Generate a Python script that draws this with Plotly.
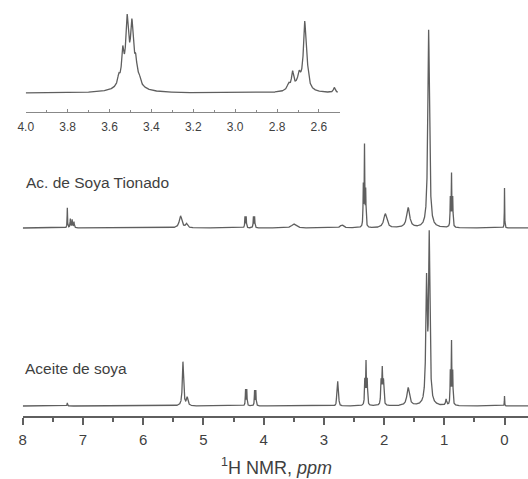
import numpy as np
import plotly.graph_objects as go

# ---- Peak lists: (ppm, height, half-width in ppm) ----
tionado_ppm    = [7.26, 7.21, 7.18, 7.15, 5.38, 5.28, 4.31, 4.29, 4.17, 4.15, 3.50, 2.70,
                  2.345, 2.325, 2.305, 1.98, 1.60, 1.26, 0.90, 0.88, 0.86, 0.00]
tionado_height = [20, 9, 8, 6, 12, 4, 11, 11, 11, 11, 4, 3,
                  40, 80, 35, 14, 20, 198, 28, 52, 28, 40]
tionado_width  = [0.004, 0.006, 0.006, 0.006, 0.025, 0.02, 0.005, 0.005, 0.005, 0.005, 0.04, 0.03,
                  0.005, 0.005, 0.005, 0.03, 0.03, 0.016, 0.005, 0.005, 0.005, 0.003]

aceite_ppm    = [7.26, 5.34, 5.27, 4.30, 4.28, 4.15, 4.13, 2.785, 2.77, 2.755,
                 2.32, 2.30, 2.28, 2.05, 2.03, 2.01, 1.60, 1.295, 1.25, 0.97,
                 0.90, 0.88, 0.86, 0.00]
aceite_height = [3, 44, 8, 16, 16, 15, 15, 13, 22, 13,
                 24, 42, 24, 22, 35, 22, 18, 120, 165, 6,
                 32, 62, 32, 10]
aceite_width  = [0.005, 0.012, 0.015, 0.005, 0.005, 0.005, 0.005, 0.005, 0.006, 0.005,
                 0.006, 0.006, 0.006, 0.007, 0.008, 0.007, 0.025, 0.014, 0.013, 0.01,
                 0.005, 0.005, 0.005, 0.003]

inset_ppm    = [3.505, 3.556, 3.537, 3.516, 3.493, 3.475, 3.458,
                2.69, 2.745, 2.726, 2.695, 2.668, 2.655, 2.527]
inset_height = [22, 8, 28, 52, 47, 18, 6,
                10, 6, 16, 8, 62, 12, 5]
inset_width  = [0.035, 0.006, 0.006, 0.007, 0.007, 0.007, 0.007,
                0.03, 0.008, 0.006, 0.006, 0.007, 0.007, 0.005]

tionado_offset = 188
aceite_offset = 10
inset_offset = 19

main_ticks = [8, 7, 6, 5, 4, 3, 2, 1, 0]
inset_ticks = [4.0, 3.8, 3.6, 3.4, 3.2, 3.0, 2.8, 2.6]


def spectrum(x, centers, heights, widths, offset):
    y = np.full_like(x, float(offset))
    for c, h, w in zip(centers, heights, widths):
        y += h * w**2 / ((x - c) ** 2 + w**2)
    return y


x_main = np.linspace(8.0, -0.39, 12000)
x_inset = np.linspace(4.0, 2.51, 4000)

line_col = "#5f5f5f"
text_col = "#3f3f3f"

fig = go.Figure()
fig.add_trace(go.Scatter(x=x_main, y=spectrum(x_main, tionado_ppm, tionado_height, tionado_width, tionado_offset),
                         mode="lines", line=dict(color=line_col, width=1.3), xaxis="x", yaxis="y",
                         hoverinfo="skip"))
fig.add_trace(go.Scatter(x=x_main, y=spectrum(x_main, aceite_ppm, aceite_height, aceite_width, aceite_offset),
                         mode="lines", line=dict(color=line_col, width=1.3), xaxis="x", yaxis="y",
                         hoverinfo="skip"))
fig.add_trace(go.Scatter(x=x_inset, y=spectrum(x_inset, inset_ppm, inset_height, inset_width, inset_offset),
                         mode="lines", line=dict(color=line_col, width=1.3), xaxis="x2", yaxis="y2",
                         hoverinfo="skip"))

W, H = 528, 479
axis_py = 416
inset_axis_py = 112

fig.update_layout(
    width=W, height=H,
    margin=dict(l=0, r=0, t=0, b=0),
    paper_bgcolor="white", plot_bgcolor="rgba(0,0,0,0)",
    showlegend=False,
    font=dict(family="Liberation Sans, Arial, sans-serif", color=text_col),
    xaxis=dict(domain=[15 / W, 1], range=[8.0, -0.39], showgrid=False, zeroline=False,
               showline=True, linecolor=line_col, linewidth=1.5,
               ticks="outside", ticklen=7, tickwidth=1.5, tickcolor=line_col,
               tickvals=main_ticks, ticktext=[str(t) for t in main_ticks],
               tickfont=dict(size=15, color=text_col), ticklabelstandoff=2,
               minor=dict(dtick=0.5, tick0=0, ticks="outside", ticklen=4, tickwidth=1.5, tickcolor=line_col),
               anchor="y"),
    yaxis=dict(domain=[1 - axis_py / H, 1], range=[0, axis_py], visible=False),
    xaxis2=dict(domain=[18 / W, 337 / W], range=[4.0, 2.5], showgrid=False, zeroline=False,
                showline=True, linecolor="#888888", linewidth=1,
                ticks="inside", ticklen=3, tickwidth=1, tickcolor="#888888",
                tickvals=inset_ticks, ticktext=["%.1f" % t for t in inset_ticks],
                tickfont=dict(size=12, color=text_col), ticklabelstandoff=4,
                minor=dict(dtick=0.1, tick0=0, ticks="inside", ticklen=2, tickwidth=1, tickcolor="#888888"),
                anchor="y2"),
    yaxis2=dict(domain=[1 - inset_axis_py / H, 1], range=[0, inset_axis_py], visible=False),
    annotations=[
        dict(text="Ac. de Soya Tionado", x=16 / W, y=1 - 182 / H, xref="paper", yref="paper",
             xanchor="left", yanchor="middle", showarrow=False, font=dict(size=15.5, color=text_col)),
        dict(text="Aceite de soya", x=15 / W, y=1 - 368 / H, xref="paper", yref="paper",
             xanchor="left", yanchor="middle", showarrow=False, font=dict(size=15.5, color=text_col)),
        dict(text="<sup>1</sup>H NMR, <i>ppm</i>", x=273 / W, y=1 - 466 / H, xref="paper", yref="paper",
             xanchor="center", yanchor="middle", showarrow=False, font=dict(size=18, color=text_col)),
    ],
)

fig.write_html("out.html", config={"displayModeBar": False},
               post_script="document.body.style.margin='0';document.body.style.overflow='hidden';")
